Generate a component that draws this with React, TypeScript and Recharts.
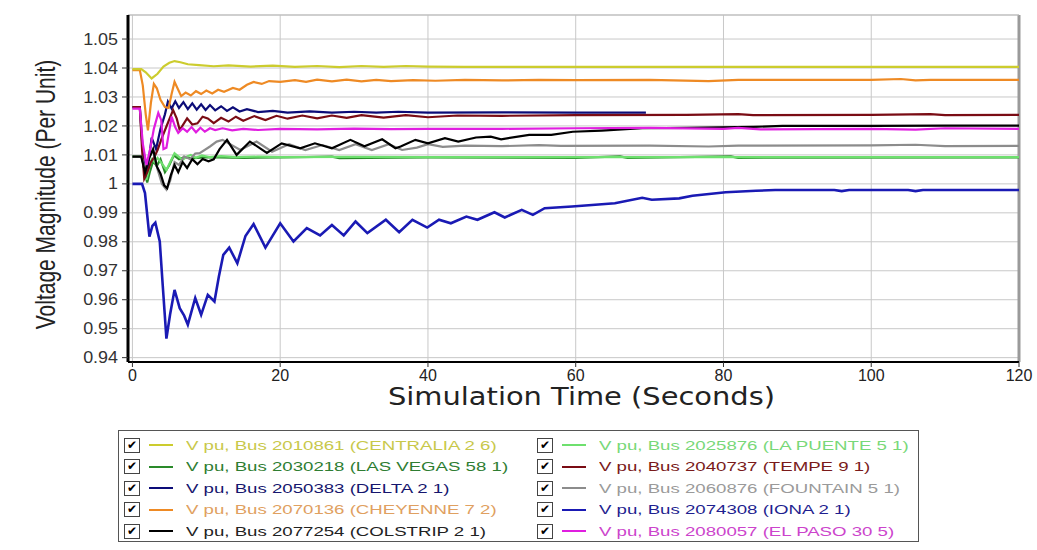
import React from "react";
import { LineChart, Line, XAxis, YAxis, CartesianGrid, ReferenceLine, Label } from "recharts";

type Pt = [number, number];

// time (s), voltage (pu)
const CENTRALIA: Pt[] = [
  [0, 1.0396], [1.2, 1.0396], [1.8, 1.0385], [2.6, 1.0364], [3.4, 1.038], [4.2, 1.0405], [5, 1.0418],
  [5.7, 1.0424], [6.5, 1.042], [7.5, 1.0413], [9, 1.041], [11, 1.0406], [13, 1.0409], [16, 1.0405],
  [19, 1.0408], [22, 1.0404], [25, 1.0407], [28, 1.0403], [31, 1.0407], [34, 1.0404], [37, 1.0407],
  [40, 1.0405], [45, 1.0404], [60, 1.0404], [80, 1.0404], [100, 1.0404], [120, 1.0404],
];
const LA_PUENTE: Pt[] = [
  [0, 1.0094], [1.3, 1.0094], [1.6, 1.005], [1.9, 1.0014], [2.3, 1.006], [2.6, 1.0085], [3.0, 1.0075],
  [3.4, 1.009], [4.0, 1.007], [4.6, 1.0048], [5.2, 1.008], [5.7, 1.0106], [6.2, 1.0095], [6.8, 1.0083],
  [7.4, 1.0095], [7.9, 1.01], [8.6, 1.009], [9.4, 1.0098], [10.5, 1.0092], [12, 1.0096], [14, 1.0092],
  [17, 1.0094], [20, 1.0092], [30, 1.0093], [40, 1.0092], [60, 1.0092], [80, 1.0092], [100, 1.0092], [120, 1.0092],
];
const LAS_VEGAS: Pt[] = [
  [0, 1.0094], [1.3, 1.0094], [1.7, 1.0035], [2.0, 1.0005], [2.4, 1.0045], [2.8, 1.0078], [3.3, 1.0062],
  [3.8, 1.0085], [4.4, 1.004], [5.0, 1.0065], [5.6, 1.0098], [6.3, 1.0085], [7.0, 1.0092], [8, 1.0088],
  [10, 1.0092], [15, 1.009], [20, 1.0091], [27, 1.0094], [28, 1.0089], [40, 1.0091], [60, 1.009],
  [66, 1.0095], [67, 1.009], [81, 1.0095], [82, 1.009], [120, 1.0091],
];
const TEMPE: Pt[] = [
  [0, 1.0265], [1.0, 1.0265], [1.3, 1.012], [1.6, 1.0018], [2.0, 1.004], [2.5, 1.0075], [3.0, 1.0095],
  [3.4, 1.0117], [4.0, 1.016], [4.6, 1.0198], [5.5, 1.0255], [6.0, 1.0225], [6.4, 1.0186], [7.4, 1.0226],
  [8.1, 1.0205], [8.8, 1.0209], [9.5, 1.0232], [10.2, 1.0226], [11, 1.021], [12, 1.0228], [13, 1.0215],
  [14, 1.0232], [15, 1.0218], [16.5, 1.0234], [18, 1.022], [19.5, 1.0235], [21, 1.0225], [23, 1.0236],
  [25, 1.0226], [27, 1.0236], [29, 1.0228], [31, 1.0237], [34, 1.0229], [37, 1.0237], [40, 1.023],
  [44, 1.0236], [50, 1.0235], [60, 1.0237], [75, 1.0238], [82, 1.0241], [84, 1.0237], [100, 1.0238],
  [108, 1.0241], [110, 1.0237], [120, 1.0238],
];
const DELTA: Pt[] = [
  [0, 1.0265], [1.0, 1.0265], [1.3, 1.015], [1.7, 1.002], [2.1, 1.006], [2.6, 1.016], [3.2, 1.012],
  [3.8, 1.019], [4.4, 1.024], [4.8, 1.0284], [5.3, 1.026], [5.8, 1.0285], [6.3, 1.0262], [6.9, 1.0282],
  [7.5, 1.0258], [8.1, 1.0278], [8.7, 1.0256], [9.3, 1.0275], [9.9, 1.0255], [10.5, 1.0272], [11.2, 1.0254],
  [12, 1.0268], [12.8, 1.0252], [13.6, 1.0264], [14.5, 1.025], [15.5, 1.0258], [17, 1.0248], [19, 1.0252],
  [21, 1.0246], [24, 1.025], [27, 1.0246], [30, 1.0249], [33, 1.0246], [36, 1.0249], [40, 1.0246],
  [50, 1.0247], [60, 1.0246], [69.5, 1.0246],
];
const FOUNTAIN: Pt[] = [
  [0, 1.0094], [1.2, 1.0094], [1.7, 1.005], [2.2, 1.009], [2.8, 1.0115], [3.4, 1.005], [4.0, 1.0],
  [4.6, 0.998], [5.1, 1.001], [5.7, 1.0075], [6.3, 1.0065], [7.0, 1.0095], [7.8, 1.0085], [8.5, 1.0105],
  [9.1, 1.0106], [10.5, 1.0129], [11.4, 1.0146], [12.2, 1.0152], [14.6, 1.0117], [16.8, 1.0146],
  [18.9, 1.0111], [21.2, 1.0137], [23.4, 1.0117], [25.7, 1.0134], [28, 1.0117], [30.2, 1.0137],
  [32.4, 1.0117], [34.7, 1.0137], [36.5, 1.0117], [38.5, 1.0125], [40, 1.0137], [42, 1.0128], [45, 1.0132],
  [50, 1.013], [55, 1.0134], [58, 1.0131], [70, 1.0132], [78, 1.0129], [82, 1.0132], [100, 1.0133],
  [106, 1.0135], [110, 1.013], [120, 1.0131],
];
const CHEYENNE: Pt[] = [
  [0, 1.0393], [1.0, 1.0393], [1.4, 1.034], [1.8, 1.024], [2.1, 1.0185], [2.5, 1.028], [2.9, 1.0345],
  [3.3, 1.033], [3.8, 1.029], [4.4, 1.0265], [4.9, 1.0262], [5.3, 1.031], [5.7, 1.0352], [6.1, 1.033],
  [6.6, 1.0303], [7.2, 1.0315], [7.9, 1.0305], [8.6, 1.032], [9.3, 1.031], [10, 1.0322], [10.8, 1.0312],
  [11.6, 1.0325], [12.4, 1.0318], [13.6, 1.0331], [14.5, 1.0325], [15.5, 1.0342], [16.4, 1.0352],
  [17.5, 1.0345], [18.5, 1.0355], [20, 1.0352], [22, 1.0358], [23.5, 1.0352], [25, 1.036], [27, 1.0354],
  [29, 1.036], [31, 1.0354], [33, 1.0359], [35, 1.0355], [38, 1.0358], [41, 1.0356], [45, 1.0359],
  [50, 1.0357], [55, 1.0359], [60, 1.0358], [70, 1.0359], [78, 1.0355], [82, 1.0359], [100, 1.0359],
  [104, 1.0362], [106, 1.0357], [108, 1.0359], [120, 1.0359],
];
const IONA: Pt[] = [
  [0, 1.0], [1.3, 1.0], [1.7, 0.9968], [2.3, 0.9818], [2.7, 0.9855], [3.1, 0.9866], [3.7, 0.9801],
  [4.1, 0.965], [4.6, 0.9466], [5.1, 0.955], [5.7, 0.9634], [6.4, 0.9571], [7.0, 0.9545], [7.5, 0.9514],
  [8.5, 0.9606], [9.3, 0.9548], [10.2, 0.9617], [11.1, 0.9594], [11.7, 0.968], [12.3, 0.9755],
  [13.1, 0.978], [14.2, 0.9726], [15.3, 0.982], [16.4, 0.9861], [18.0, 0.978], [20.0, 0.9864],
  [21.8, 0.9801], [23.6, 0.9847], [25.4, 0.9822], [27.0, 0.9858], [28.6, 0.9822], [30.2, 0.987],
  [31.8, 0.983], [34.3, 0.9876], [36.1, 0.9833], [37.9, 0.9876], [39.9, 0.9849], [41.5, 0.9876],
  [43.1, 0.9864], [45.2, 0.9887], [46.7, 0.9876], [49, 0.9902], [50.4, 0.9884], [52.7, 0.991],
  [54.2, 0.9893], [55.8, 0.9916], [59.5, 0.9922], [62.2, 0.9927], [65.3, 0.9933], [69, 0.9952],
  [70.3, 0.9945], [74, 0.995], [75.8, 0.9959], [80.3, 0.9971], [84.4, 0.9976], [87, 0.9979], [95, 0.9979],
  [96, 0.9975], [97, 0.9979], [105, 0.9979], [106, 0.9975], [107, 0.9979], [120, 0.9979],
];
const COLSTRIP: Pt[] = [
  [0, 1.0094], [1.2, 1.0094], [1.7, 1.004], [2.2, 1.0085], [2.8, 1.012], [3.3, 1.006], [3.8, 1.0035],
  [4.3, 0.9995], [4.7, 0.9985], [5.2, 1.003], [5.7, 1.0065], [6.2, 1.004], [6.8, 1.0075], [7.4, 1.0055],
  [8.1, 1.0085], [8.8, 1.0068], [9.5, 1.0086], [10.3, 1.0078], [11, 1.0085], [11.8, 1.012], [12.8, 1.0152],
  [14.1, 1.01], [15.9, 1.0146], [18.2, 1.0107], [20.2, 1.014], [22.7, 1.0123], [24.7, 1.014], [27, 1.0123],
  [29.5, 1.0152], [31.4, 1.013], [33.8, 1.0154], [35.6, 1.0123], [36.3, 1.0129], [38.3, 1.0152],
  [40, 1.014], [42.3, 1.0158], [44.1, 1.0146], [46.5, 1.016], [48.5, 1.0163], [49.9, 1.0154],
  [53.7, 1.0169], [56.7, 1.0169], [59.6, 1.018], [63.5, 1.0184], [69, 1.0192], [75, 1.0193],
  [79.4, 1.0195], [84, 1.0197], [88, 1.02], [100, 1.02], [110, 1.0201], [120, 1.0201],
];
const EL_PASO: Pt[] = [
  [0, 1.026], [1.0, 1.026], [1.4, 1.014], [1.9, 1.0065], [2.4, 1.012], [2.9, 1.019], [3.5, 1.0245],
  [3.9, 1.022], [4.2, 1.012], [4.6, 1.0125], [5.3, 1.0232], [5.8, 1.0195], [6.2, 1.0176], [6.8, 1.0192],
  [7.4, 1.018], [8.0, 1.0196], [8.6, 1.0178], [9.2, 1.0194], [9.8, 1.018], [10.5, 1.0192], [11.2, 1.0186],
  [12.2, 1.0192], [13.5, 1.0185], [15, 1.019], [17, 1.0186], [20, 1.019], [25, 1.0188], [30, 1.0191],
  [35, 1.0189], [40, 1.019], [50, 1.019], [60, 1.0192], [70, 1.0193], [80, 1.019], [82, 1.0193],
  [85, 1.0188], [100, 1.019], [106, 1.0187], [110, 1.0192], [120, 1.019],
];

const X_TICKS = [0, 20, 40, 60, 80, 100, 120];
const Y_TICKS = [0.94, 0.95, 0.96, 0.97, 0.98, 0.99, 1.0, 1.01, 1.02, 1.03, 1.04, 1.05];
const Y_MINOR = Array.from({ length: 60 }, (_, i) => Number((0.94 + i * 0.002).toFixed(3)));
const X_DOMAIN: [number, number] = [-0.6, 120];
const Y_DOMAIN: [number, number] = [0.9385, 1.0583];

const SERIES = [
  { key: "centralia", name: "V pu, Bus 2010861 (CENTRALIA 2 6)", color: "#cccc2e", text: "#c8c84a", pts: CENTRALIA },
  { key: "lapuente", name: "V pu, Bus 2025876 (LA PUENTE 5 1)", color: "#6ee06e", text: "#78d878", pts: LA_PUENTE },
  { key: "lasvegas", name: "V pu, Bus 2030218 (LAS VEGAS 58 1)", color: "#2a8a2a", text: "#2e7d32", pts: LAS_VEGAS },
  { key: "tempe", name: "V pu, Bus 2040737 (TEMPE 9 1)", color: "#7a0c14", text: "#7a1a1a", pts: TEMPE },
  { key: "delta", name: "V pu, Bus 2050383 (DELTA 2 1)", color: "#0c0c78", text: "#16166e", pts: DELTA },
  { key: "fountain", name: "V pu, Bus 2060876 (FOUNTAIN 5 1)", color: "#8c8c8c", text: "#9a9a9a", pts: FOUNTAIN },
  { key: "cheyenne", name: "V pu, Bus 2070136 (CHEYENNE 7 2)", color: "#ee8a24", text: "#e0a060", pts: CHEYENNE },
  { key: "iona", name: "V pu, Bus 2074308 (IONA 2 1)", color: "#1a1ab4", text: "#1f1f90", pts: IONA },
  { key: "colstrip", name: "V pu, Bus 2077254 (COLSTRIP 2 1)", color: "#000000", text: "#222222", pts: COLSTRIP },
  { key: "elpaso", name: "V pu, Bus 2080057 (EL PASO 30 5)", color: "#e01ee0", text: "#cc44cc", pts: EL_PASO },
];

const DRAW_ORDER = ["lasvegas", "lapuente", "delta", "tempe", "fountain", "colstrip", "elpaso", "cheyenne", "centralia", "iona"];

const FONT = "'Liberation Sans', Arial, sans-serif";

const fmtY = (v: number) => String(Number(v.toFixed(2)));

function XTitle(props: any) {
  const vb = props.viewBox;
  return (
    <text
      x={vb.x + vb.width / 2 + 8}
      y={vb.y + 43}
      textAnchor="middle"
      fontSize={24}
      fontFamily="'DejaVu Sans', sans-serif"
      fill="#222"
      textLength={387}
      lengthAdjust="spacingAndGlyphs"
    >
      Simulation Time (Seconds)
    </text>
  );
}

function YTitle(props: any) {
  const vb = props.viewBox;
  const x = vb.x - 23;
  const y = vb.y + vb.height / 2 + 6;
  // the source picture is stretched sideways, so the rotated title is drawn wider
  return (
    <g transform={`translate(${x}, ${y}) scale(1.35, 1) rotate(-90)`}>
      <text x={0} y={0} textAnchor="middle" dominantBaseline="central" fontSize={21} fontFamily={FONT} fill="#222">
        Voltage Magnitude (Per Unit)
      </text>
    </g>
  );
}

function YTick(props: any) {
  const { x, y, payload } = props;
  return (
    <g transform={`translate(${x}, ${y}) scale(1.12, 1)`}>
      <text x={0} y={0} textAnchor="end" dy="0.35em" fontSize={16} fontFamily={FONT} fill="#333">
        {fmtY(payload.value)}
      </text>
    </g>
  );
}

function LegendBox() {
  return (
    <div
      style={{
        position: "absolute",
        left: 118,
        top: 430,
        width: 801,
        height: 112,
        border: "1px solid #555",
        boxSizing: "border-box",
        background: "#fff",
        fontFamily: FONT,
      }}
    >
      {SERIES.map((s, i) => {
        const col = i % 2;
        const row = Math.floor(i / 2);
        return (
          <div
            key={s.key}
            style={{
              position: "absolute",
              left: col === 0 ? 5 : 418,
              top: 5 + row * 21.5,
              height: 18,
              display: "flex",
              alignItems: "center",
              whiteSpace: "nowrap",
            }}
          >
            <span
              style={{
                width: 14,
                height: 13,
                border: "1px solid #444",
                display: "inline-flex",
                alignItems: "center",
                justifyContent: "center",
                fontSize: 12,
                lineHeight: "13px",
                fontFamily: "'DejaVu Sans', sans-serif",
                color: "#000",
              }}
            >
              ✔
            </span>
            <span style={{ width: 24, height: 2, background: s.color, marginLeft: 9 }} />
            <span
              style={{
                marginLeft: 13,
                color: s.text,
                fontSize: 13.5,
                display: "inline-block",
                transform: "scaleX(1.38)",
                transformOrigin: "left center",
              }}
            >
              {s.name}
            </span>
          </div>
        );
      })}
    </div>
  );
}

export default function App() {
  const drawn = DRAW_ORDER.map((k) => SERIES.find((s) => s.key === k)!);
  return (
    <div style={{ position: "absolute", left: 0, top: 0, width: 1037, height: 550, background: "#fff" }}>
      <LineChart width={1037} height={420} margin={{ top: 15, right: 18, left: 68, bottom: 8 }}>
        <CartesianGrid yAxisId="main" stroke="#c8c8c8" strokeWidth={1} />
        <XAxis
          dataKey="t"
          type="number"
          domain={X_DOMAIN}
          ticks={X_TICKS}
          interval={0}
          allowDataOverflow
          height={50}
          tickSize={5}
          tickMargin={3}
          tick={{ fontSize: 16, fill: "#222", fontFamily: FONT }}
          axisLine={{ stroke: "#000", strokeWidth: 2 }}
          tickLine={{ stroke: "#333" }}
        >
          <Label content={<XTitle />} />
        </XAxis>
        <YAxis
          yAxisId="main"
          type="number"
          domain={Y_DOMAIN}
          ticks={Y_TICKS}
          interval={0}
          allowDataOverflow
          width={60}
          tickSize={6}
          tickMargin={4}
          tick={<YTick />}
          axisLine={{ stroke: "#000", strokeWidth: 3 }}
          tickLine={{ stroke: "#333" }}
        >
          <Label content={<YTitle />} />
        </YAxis>
        <YAxis
          yAxisId="minor"
          type="number"
          domain={Y_DOMAIN}
          ticks={Y_MINOR}
          interval={0}
          allowDataOverflow
          width={0}
          tickSize={3}
          tick={false}
          axisLine={false}
          tickLine={{ stroke: "#333" }}
        />
        <ReferenceLine yAxisId="main" x={X_DOMAIN[1]} stroke="#9a9a9a" strokeWidth={3} />
        <ReferenceLine yAxisId="main" y={Y_DOMAIN[1]} stroke="#bbbbbb" strokeWidth={1} />
        {drawn.map((s) => (
          <Line
            key={s.key}
            yAxisId="main"
            data={s.pts.map(([t, v]) => ({ t, v }))}
            dataKey="v"
            name={s.name}
            type="linear"
            stroke={s.color}
            strokeWidth={s.key === "iona" ? 2.6 : 2.2}
            dot={false}
            activeDot={false}
            isAnimationActive={false}
          />
        ))}
      </LineChart>
      <LegendBox />
    </div>
  );
}
